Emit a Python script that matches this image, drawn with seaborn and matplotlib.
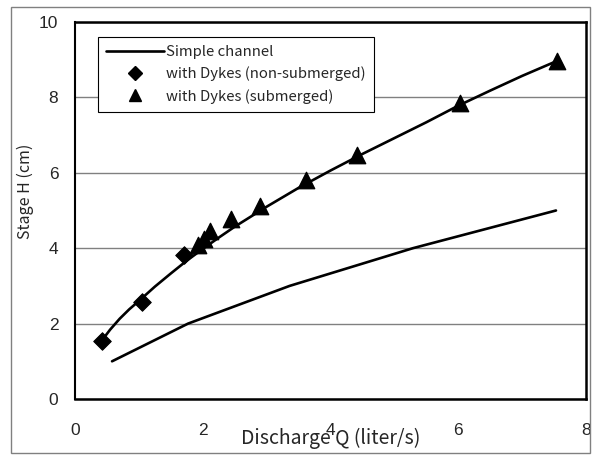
import matplotlib
matplotlib.use("Agg")
import matplotlib.pyplot as plt
import seaborn as sns
import pandas as pd
from matplotlib.lines import Line2D
from matplotlib.patches import Rectangle

# simple channel (rating curve without dykes)
simple_q = [0.58, 1.77, 3.36, 5.29, 7.53]
simple_h = [1.0, 2.0, 3.0, 4.0, 5.0]

# with dykes, non-submerged
nonsub_q = [0.42, 1.05, 1.70]
nonsub_h = [1.55, 2.58, 3.82]

# with dykes, submerged
sub_q = [1.92, 2.02, 2.12, 2.45, 2.90, 3.62, 4.42, 6.02, 7.55]
sub_h = [4.08, 4.25, 4.45, 4.78, 5.12, 5.82, 6.47, 7.85, 8.97]

# smooth curve drawn through the dyke data
curve_q = [0.42, 0.55, 0.70, 0.85, 1.00, 1.25, 1.50, 1.75, 2.00, 2.25, 2.50,
           3.00, 3.50, 4.00, 4.50, 5.00, 5.50, 6.00, 6.50, 7.00, 7.55]
curve_h = [1.55, 1.84, 2.13, 2.38, 2.60, 2.98, 3.33, 3.67, 3.98, 4.28, 4.57,
           5.10, 5.60, 6.06, 6.50, 6.92, 7.34, 7.78, 8.18, 8.57, 8.97]

sns.set_style("white")
plt.rcParams["font.family"] = ["Liberation Sans", "DejaVu Sans"]
jp = ["Noto Sans CJK JP", "DejaVu Sans"]

fig = plt.figure(figsize=(5.95, 4.55), dpi=100)
ax = fig.add_axes([75 / 595, 1 - 399 / 455, 511 / 595, 377 / 455])

df_simple = pd.DataFrame({"Q": simple_q, "H": simple_h})
df_curve = pd.DataFrame({"Q": curve_q, "H": curve_h})
df_nonsub = pd.DataFrame({"Q": nonsub_q, "H": nonsub_h})
df_sub = pd.DataFrame({"Q": sub_q, "H": sub_h})

sns.lineplot(data=df_simple, x="Q", y="H", color="black", lw=1.9, sort=False, ax=ax)
sns.lineplot(data=df_curve, x="Q", y="H", color="black", lw=1.9, sort=False, ax=ax)
sns.scatterplot(data=df_nonsub, x="Q", y="H", marker="D", s=80, color="black",
                edgecolor="black", ax=ax, zorder=5)
sns.scatterplot(data=df_sub, x="Q", y="H", marker="^", s=140, color="black",
                edgecolor="black", ax=ax, zorder=5)

ax.set_xlim(0, 8)
ax.set_ylim(0, 10)
ax.set_xticks([0, 2, 4, 6, 8])
ax.set_xticks([1, 3, 5, 7], minor=True)
ax.set_yticks([0, 2, 4, 6, 8, 10])
ax.yaxis.grid(True, color="#808080", lw=1.0)
ax.set_axisbelow(True)
ax.tick_params(axis="x", which="major", direction="in", length=4, width=1,
               labelsize=12.5, pad=17)
ax.tick_params(axis="x", which="minor", direction="in", length=3, width=1)
ax.tick_params(axis="y", which="major", length=0, labelsize=12.5, pad=12)
for s in ax.spines.values():
    s.set_color("black")
    s.set_linewidth(1.8)
ax.spines["left"].set_linewidth(1.5)

ax.set_xlabel("Discharge Q (liter/s)", fontsize=14, family=jp)
ax.xaxis.set_label_coords(0.5, -0.076)
ax.set_ylabel("Stage H (cm)", fontsize=11.5, family=jp)
ax.yaxis.set_label_coords(-0.08, 0.55)

handles = [
    Line2D([], [], color="black", lw=1.9),
    Line2D([], [], color="black", marker="D", ls="none", ms=7),
    Line2D([], [], color="black", marker="^", ls="none", ms=9),
]
labels = ["Simple channel", "with Dykes (non-submerged)", "with Dykes (submerged)"]
leg = ax.legend(handles, labels, loc="upper left", bbox_to_anchor=(0.045, 0.96),
                borderaxespad=0, fancybox=False, framealpha=1, edgecolor="black",
                prop={"family": jp, "size": 10.7}, handlelength=3.9,
                handletextpad=0.15, labelspacing=0.5, borderpad=0.55)
leg.get_frame().set_linewidth(0.8)

fig.patches.append(Rectangle((11 / 595, 2 / 455), 579 / 595, 446 / 455,
                             transform=fig.transFigure, fill=False,
                             edgecolor="#808080", lw=1.0))

fig.savefig("out.png", dpi=100)
